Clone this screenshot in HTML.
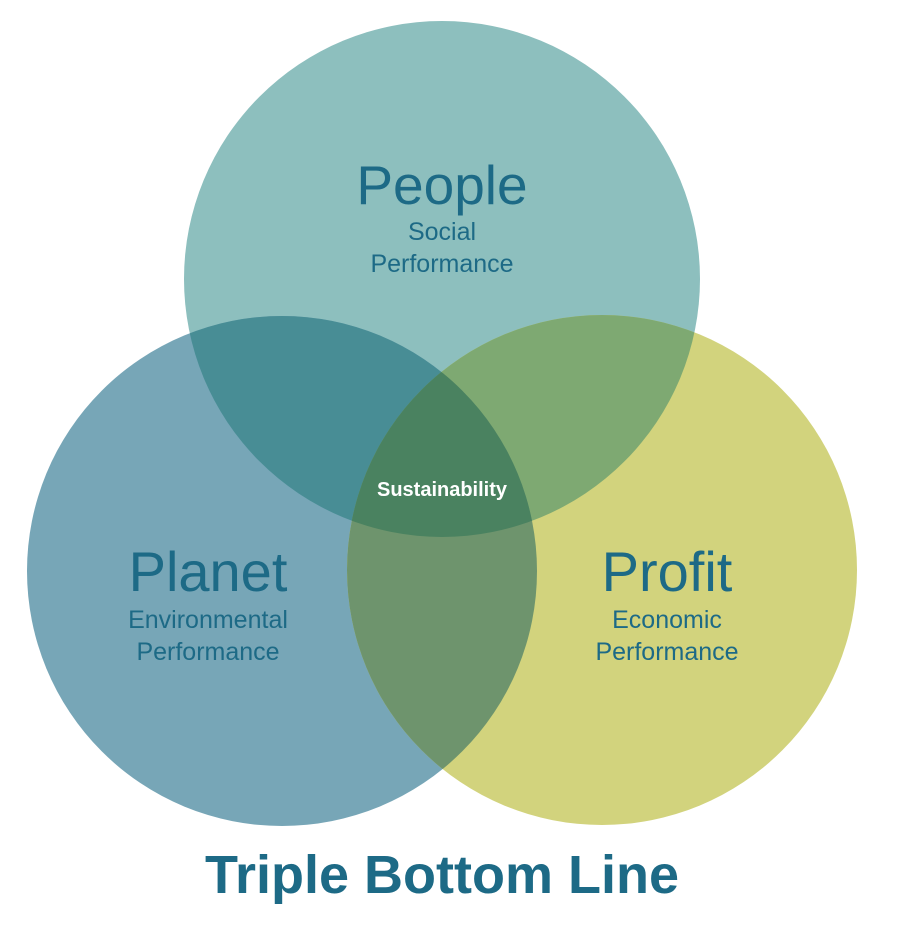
<!DOCTYPE html>
<html><head><style>
html,body{margin:0;padding:0;background:#fff;width:900px;height:926px;overflow:hidden}
text{font-family:"Liberation Sans",sans-serif}
</style></head><body>
<svg width="900" height="926" viewBox="0 0 900 926" xmlns="http://www.w3.org/2000/svg">
<defs>
<clipPath id="cA"><circle cx="442" cy="279" r="258"/></clipPath>
<clipPath id="cB"><circle cx="282" cy="571" r="255"/></clipPath>
<clipPath id="cC"><circle cx="602" cy="570" r="255"/></clipPath>
</defs>
<circle cx="442" cy="279" r="258" fill="#8dbfbe"/>
<circle cx="282" cy="571" r="255" fill="#77a6b7"/>
<circle cx="602" cy="570" r="255" fill="#d2d37d"/>
<g clip-path="url(#cA)">
  <circle cx="282" cy="571" r="255" fill="#488d95"/>
  <circle cx="602" cy="570" r="255" fill="#7ea972"/>
</g>
<g clip-path="url(#cB)">
  <circle cx="602" cy="570" r="255" fill="#6e946d"/>
  <g clip-path="url(#cA)"><circle cx="602" cy="570" r="255" fill="#4a8260"/></g>
</g>
<g fill="#1d6a86" text-anchor="middle">
<text x="442" y="204" font-size="55">People</text>
<text x="442" y="240" font-size="25">Social</text>
<text x="442" y="272" font-size="25">Performance</text>
<text x="208" y="591" font-size="56">Planet</text>
<text x="208" y="628" font-size="25">Environmental</text>
<text x="208" y="660" font-size="25">Performance</text>
<text x="667" y="591" font-size="56">Profit</text>
<text x="667" y="628" font-size="25">Economic</text>
<text x="667" y="660" font-size="25">Performance</text>
<text x="442" y="893" font-size="54" font-weight="bold">Triple Bottom Line</text>
</g>
<text x="442" y="496" font-size="20" font-weight="bold" fill="#fff" text-anchor="middle">Sustainability</text>
</svg>
</body></html>
